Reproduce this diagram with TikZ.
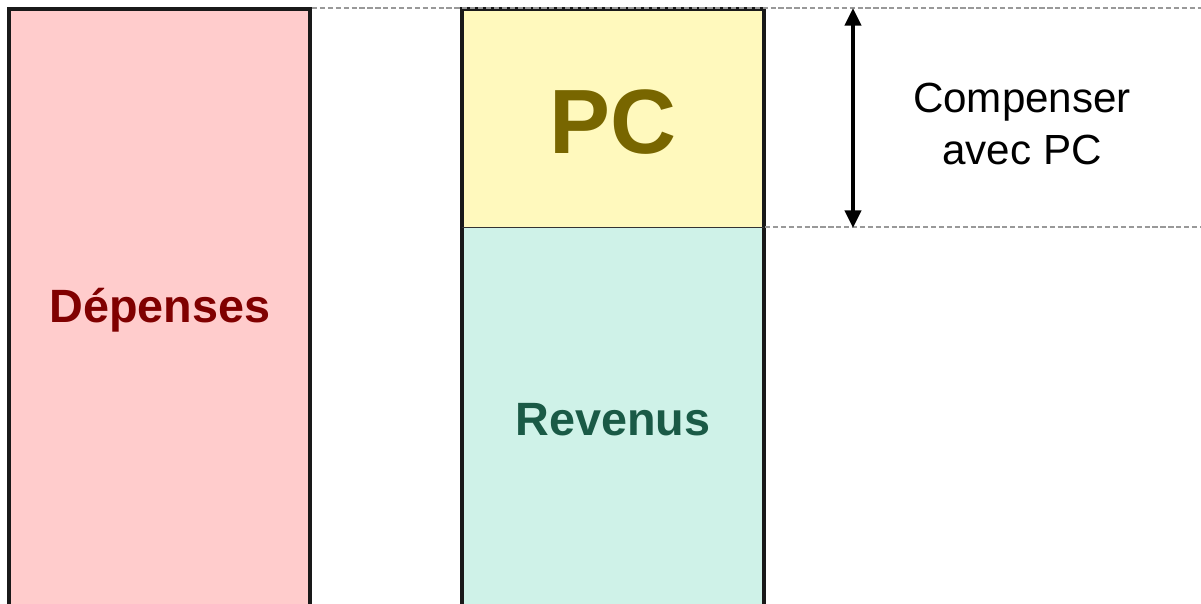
\documentclass[tikz,border=0pt]{standalone}
\usepackage{fontspec}
\setmainfont{Liberation Sans}
\usepackage{xcolor}
\usetikzlibrary{arrows,arrows.meta,positioning,calc}
\definecolor{depfill}{HTML}{FFCCCC}
\definecolor{pcfill}{HTML}{FFF9BD}
\definecolor{revfill}{HTML}{CFF2E8}
\definecolor{deptext}{HTML}{800000}
\definecolor{pctext}{HTML}{786600}
\definecolor{revtext}{HTML}{1A5A46}
\tikzset{
    bar/.style = {draw = black!90, line width = 2.2pt},
    guide/.style = {draw = black!40, dashed, line width = .6pt, dash pattern = on 3pt off 1.5pt},
    barlabel/.style = {font = \bfseries\fontsize{26.6}{30}\selectfont}
}

\begin{document}
\begin{tikzpicture}[x = .02cm, y = -.02cm]
    \useasboundingbox (0,0) rectangle (1201,603);
    % columns
    \fill[depfill] (9,9) rectangle (310,610);
    \draw[bar] (9,610) -- (9,9) -- (310,9) -- (310,610);
    \fill[revfill] (462,227) rectangle (764,610);
    \fill[pcfill] (462,9) rectangle (764,227);
    \draw[bar] (462,610) -- (462,9) -- (764,9) -- (764,610);
    \draw[black!80, line width = .5pt] (462,227) -- (764,227);
    % guides
    \coordinate (topl) at (312,8);
    \coordinate (topr) at (1201,8);
    \coordinate (botl) at (765,227);
    \coordinate (botr) at (1201,227);
    \draw[guide] (topl) -- (topr);
    \draw[guide] (botl) -- (botr);
    % labels
    \node[barlabel, text = deptext] (dep) at (160,310) {Dépenses};
    \node[font = \bfseries\fontsize{52}{60}\selectfont, text = pctext] (pc) at (613,122) {PC};
    \node[barlabel, text = revtext] (rev) at (613,420) {Revenus};
    \node[align = center, font = \fontsize{24}{29.5}\selectfont] (comp) at (1022,124) {Compenser\\avec PC};
    % gap to cover
    \coordinate (up) at (853,8);
    \coordinate (down) at (853,228);
    \draw[{Triangle[length = 10pt, width = 9pt]}-{Triangle[length = 10pt, width = 9pt]}, line width = 2.4pt] (up) -- (down);
\end{tikzpicture}
\end{document}
